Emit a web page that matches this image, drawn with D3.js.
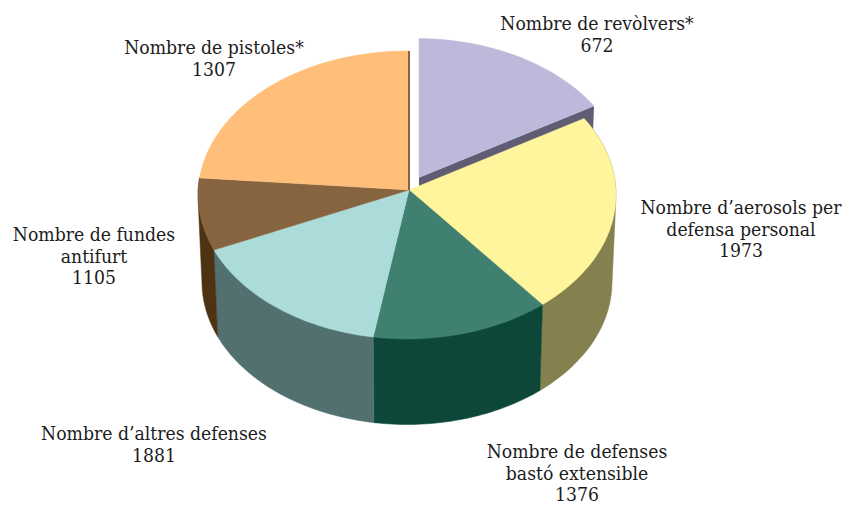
<!DOCTYPE html>
<html><head><meta charset="utf-8">
<script src="https://cdn.jsdelivr.net/npm/d3@7"></script>
<style>html,body{margin:0;background:#fff}svg{display:block}text{font-family:"DejaVu Serif Condensed","DejaVu Serif",serif;font-size:19.2px;fill:#1c1c1c;text-anchor:middle}</style>
</head><body><svg id="c" width="847" height="506"></svg>
<script>
// Printed labels, clockwise from the top
const labelLines = [
  ["Nombre de revòlvers*"],
  ["Nombre d’aerosols per","defensa personal"],
  ["Nombre de defenses","bastó extensible"],
  ["Nombre d’altres defenses"],
  ["Nombre de fundes","antifurt"],
  ["Nombre de pistoles*"]
];
const labelValues = [672,1973,1376,1881,1105,1307];
// Slice sizes as actually drawn in the picture (they do not follow the printed numbers)
const sliceSizes = [1324,1887,1148,1344,677,1934];
const topColors  = ["#bdb9db","#fff59d","#3f8070","#abdcd9","#86643f","#ffbf7a"];
const wallColors = ["#5f5c74","#85814f","#0d473a","#537070","#4e3312","#86643f"];
const explodedIndex = 0;
const labelAnchors = [[597,30],[741,214],[577,458],[154,440],[94,241],[214,54]];

const svg = d3.select("#c");
const top0 = {cx:407,cy:195,rx:209,ry:144}, bot0 = {cx:407,cy:282,rx:205,ry:142.5};
const apex = [409,190], apexDepth = 86, shift = [10,-12.5];
const turn = 0.0096;
const rim = (e,a)=>[e.cx+e.rx*Math.sin(a), e.cy-e.ry*Math.cos(a)];
const arcs = d3.pie().sort(null).startAngle(turn).endAngle(2*Math.PI+turn).value(d=>d)(sliceSizes);
const line = d3.line();
const samples = (a0,a1)=>d3.range(41).map(i=>a0+(a1-a0)*i/40);
const mv = (p,i)=> i===explodedIndex ? [p[0]+shift[0],p[1]+shift[1]] : p;

// radial cut face of the exploded slice
{
  const a = arcs[explodedIndex], r0 = mv(rim(top0,a.endAngle),0), r1 = mv(rim(bot0,a.endAngle),0), c = mv(apex,0);
  svg.append("path").attr("d",line([c,r0,r1,[c[0],c[1]+apexDepth]])+"Z").attr("fill",wallColors[0]);
}
// outer walls
arcs.forEach((a,i)=>{
  if(i===explodedIndex||i===arcs.length-1) return;
  const as = samples(a.startAngle,a.endAngle);
  const hull = d3.polygonHull(as.map(t=>rim(top0,t)).concat(as.map(t=>rim(bot0,t))));
  svg.append("path").attr("d",line(hull)+"Z").attr("fill",wallColors[i]).attr("stroke",wallColors[i]).attr("stroke-width",.5);
});
// top faces
arcs.forEach((a,i)=>{
  const pts = [mv(apex,i)].concat(samples(a.startAngle,a.endAngle).map(t=>mv(rim(top0,t),i)));
  svg.append("path").attr("d",line(pts)+"Z").attr("fill",topColors[i]).attr("stroke",topColors[i]).attr("stroke-width",.4);
});
// thin cut edge of the last slice beside the gap
{
  const p = rim(top0,arcs[arcs.length-1].endAngle);
  svg.append("path").attr("d",line([[apex[0],apex[1]],[p[0],p[1]]]))
     .attr("stroke",wallColors[5]).attr("stroke-width",2).attr("fill","none");
}
// labels
labelLines.forEach((ls,i)=>{
  const [x,y]=labelAnchors[i];
  ls.concat([String(labelValues[i])]).forEach((s,k)=>{
    svg.append("text").attr("x",x).attr("y",y+k*21.6).text(s);
  });
});
</script></body></html>
